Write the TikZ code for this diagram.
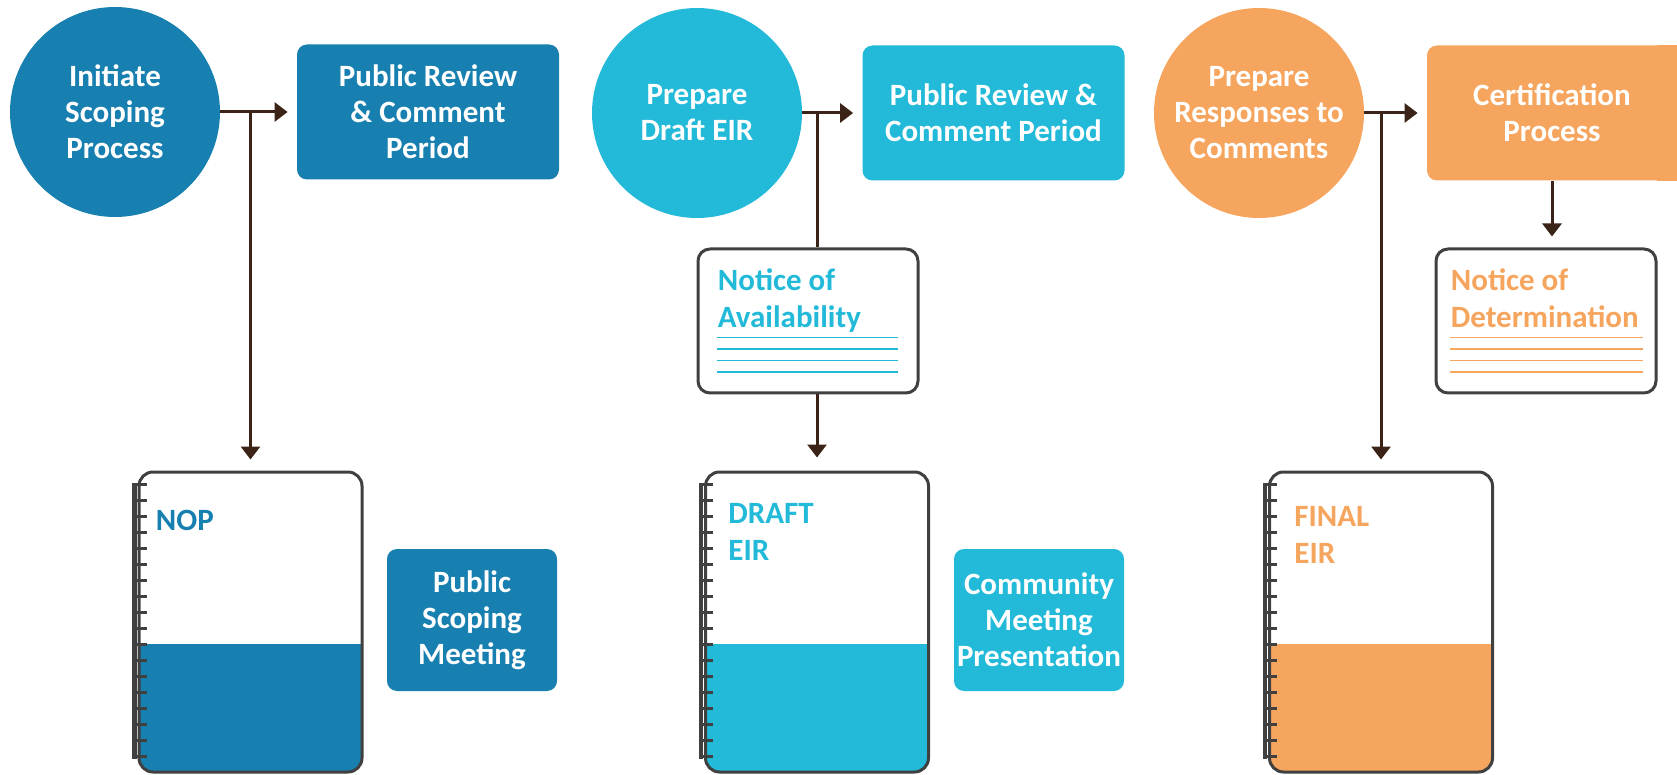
\documentclass[tikz,border=0pt]{standalone}
\usepackage{fontspec}
\setmainfont{Carlito}
\usetikzlibrary{arrows.meta}
\definecolor{eirblue}{HTML}{1880B0}
\definecolor{eircyan}{HTML}{22BAD8}
\definecolor{eirorange}{HTML}{F6A55E}
\definecolor{linkbrown}{HTML}{3B2417}
\definecolor{pagegray}{HTML}{404040}

\begin{document}
\begin{tikzpicture}[x=0.5pt, y=-0.5pt,
  every node/.style={font=\fontsize{15.5}{18}\selectfont\bfseries},
  stage/.style={circle, fill=#1, text=white, minimum size=105pt, inner sep=0pt, align=center},
  task/.style={rounded corners=5pt, fill=#1, text=white, inner sep=0pt, align=center},
  notice/.style={draw=pagegray, line width=1.5pt, rounded corners=6pt, fill=white, minimum width=110pt, minimum height=72pt, inner sep=0pt},
  notebook/.style={draw=pagegray, line width=1.5pt, rounded corners=7pt, minimum width=111.5pt, minimum height=150pt, inner sep=0pt,
    path picture={\fill[#1, sharp corners] (path picture bounding box.south west) rectangle ([yshift=64pt]path picture bounding box.south east);}},
  doc text/.style={text=#1, align=left, inner sep=0pt, anchor=north west, font=\fontsize{15.5}{18.5}\selectfont\bfseries},
  link/.style={line width=1.5pt, draw=linkbrown, -{Triangle[length=6.5pt,width=9.5pt]}}]
\useasboundingbox (0,0) rectangle (1677,775);

\node [stage=eirblue] (c1) at (115,112) {Initiate\\Scoping\\Process};
\node [stage=eircyan] (c2) at (697,113) {Prepare\\Draft EIR};
\node [stage=eirorange] (c3) at (1259,113) {Prepare\\Responses to\\Comments};

\node [task=eirblue, minimum width=131pt, minimum height=67.5pt] (b1) at (428,112) {Public Review\\\& Comment\\Period};
\node [task=eircyan, minimum width=131pt, minimum height=67.5pt] (b2) at (993.5,113) {Public Review \&\\Comment Period};
\node [task=eirorange, minimum width=125pt, minimum height=67.5pt] (b3) at (1552,113) {Certification\\Process};
\fill [eirorange] ([xshift=-10pt]b3.north east) rectangle ([xshift=5pt]b3.south east);

\node [notice] (noa) at (808,321) {};
\node [notice] (nod) at (1546,321) {};
\node [doc text=eircyan] (noatxt) at ([xshift=10.5pt,yshift=-10.6pt]noa.north west) {Notice of\\Availability};
\node [doc text=eirorange] (nodtxt) at ([xshift=8pt,yshift=-10.6pt]nod.north west) {Notice of\\Determination};
\foreach \k in {0,...,3} {
  \draw [eircyan, line width=0.8pt] ([xshift=10pt,yshift=-45pt-\k*5.8pt]noa.north west) -- ++(90.5pt,0);
  \draw [eirorange, line width=0.8pt] ([xshift=7.5pt,yshift=-45pt-\k*5.8pt]nod.north west) -- ++(96.5pt,0);
}

\node [notebook=eirblue] (nb1) at (250.5,622) {};
\node [notebook=eircyan] (nb2) at (817,622) {};
\node [notebook=eirorange] (nb3) at (1381,622) {};
\foreach \nb in {nb1,nb2,nb3} {
  \draw [pagegray, line width=2.2pt] ([xshift=-1.6pt,yshift=-6pt]\nb.north west) -- ([xshift=-1.6pt,yshift=-144pt]\nb.north west);
  \foreach \k in {0,...,17}
    \draw [pagegray, line width=1.7pt] ([xshift=-2.5pt,yshift=-7pt-\k*8pt]\nb.north west) -- ++(7pt,0);
}
\node [doc text=eirblue] (noptxt) at ([xshift=9pt,yshift=-19.5pt]nb1.north west) {NOP};
\node [doc text=eircyan] (drafttxt) at ([xshift=12pt,yshift=-16pt]nb2.north west) {DRAFT\\EIR};
\node [doc text=eirorange] (finaltxt) at ([xshift=13pt,yshift=-17.5pt]nb3.north west) {FINAL\\EIR};

\node [task=eirblue, minimum width=85pt, minimum height=71pt] (psm) at (472,620) {Public\\Scoping\\Meeting};
\node [task=eircyan, minimum width=85pt, minimum height=71pt] (cmp) at (1039,620) {Community\\Meeting\\Presentation};

\coordinate (j1) at (nb1.north |- c1.east);
\coordinate (j2) at (nb2.north |- c2.east);
\coordinate (j3) at (nb3.north |- c3.east);
\draw [link, shorten >=4.5pt] (c1.east) -- (b1.west);
\draw [link, shorten >=4.5pt] (c2.east) -- (b2.west);
\draw [link, shorten >=4.5pt] (c3.east) -- (b3.west);
\draw [link, shorten >=5.5pt] (j1) -- (nb1.north);
\draw [line width=1.5pt, linkbrown] (j2) -- (j2 |- noa.north);
\draw [link, shorten >=6.5pt] (j2 |- noa.south) -- (nb2.north);
\draw [link, shorten >=5.5pt] (j3) -- (nb3.north);
\draw [link, shorten >=5.5pt] (b3.south) -- (b3.south |- nod.north);
\end{tikzpicture}
\end{document}
